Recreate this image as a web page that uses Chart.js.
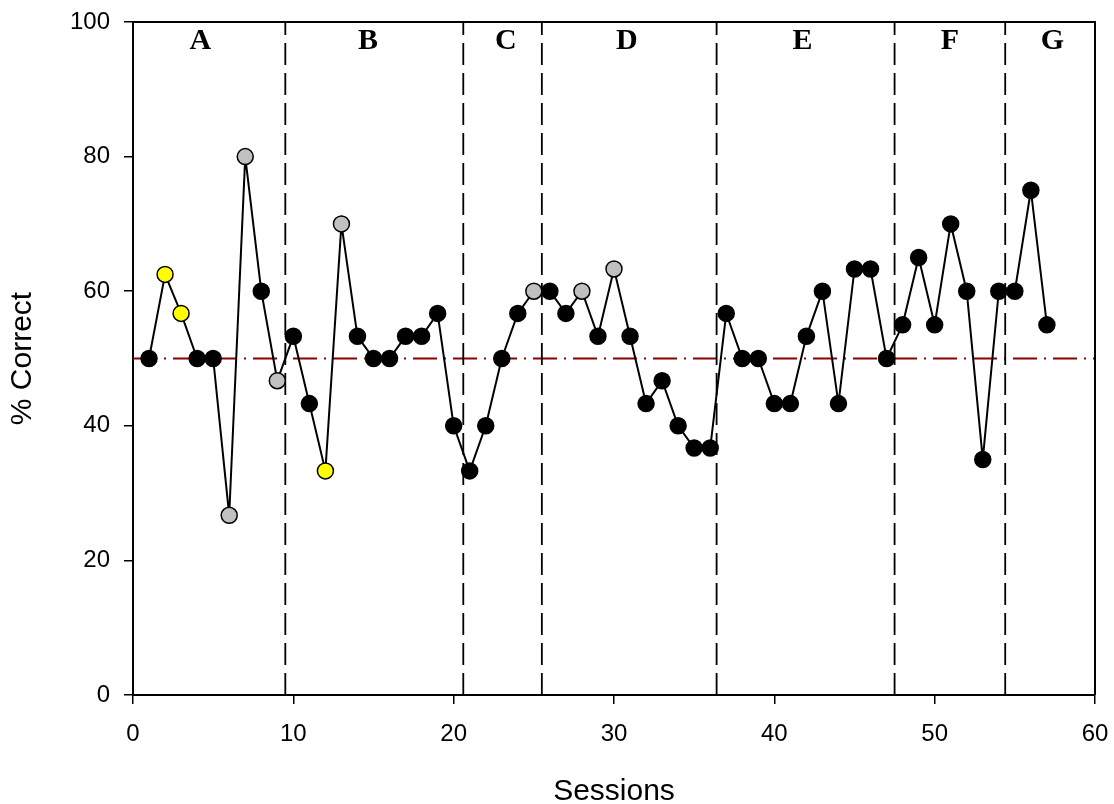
<!DOCTYPE html>
<html><head><meta charset="utf-8">
<script src="https://cdn.jsdelivr.net/npm/chart.js@4/dist/chart.umd.min.js"></script>
<style>html,body{margin:0;padding:0;background:#fff;}canvas{display:block;}</style>
</head><body>
<canvas id="c" width="1114" height="804"></canvas>
<script>
// ---- data ----
const sessions = [1,2,3,4,5,6,7,8,9,10,11,12,13,14,15,16,17,18,19,20,21,22,23,24,25,26,27,28,29,30,31,32,33,34,35,36,37,38,39,40,41,42,43,44,45,46,47,48,49,50,51,52,53,54,55,56,57];
const percentCorrect = [50,62.5,56.7,50,50,26.7,80,60,46.7,53.3,43.3,33.3,70,53.3,50,50,53.3,53.3,56.7,40,33.3,40,50,56.7,60,60,56.7,60,53.3,63.3,53.3,43.3,46.7,40,36.7,36.7,56.7,50,50,43.3,43.3,53.3,60,43.3,63.3,63.3,50,55,65,55,70,60,35,60,60,75,55];
// k = black, y = yellow, g = gray
const pointKind = ['k','y','y','k','k','g','g','k','g','k','k','y','g','k','k','k','k','k','k','k','k','k','k','k','g','k','k','g','k','g','k','k','k','k','k','k','k','k','k','k','k','k','k','k','k','k','k','k','k','k','k','k','k','k','k','k','k'];
const phaseBoundaries = [9.5, 20.6, 25.5, 36.4, 47.5, 54.4];
const phaseLabels = ['A','B','C','D','E','F','G'];
const phaseLabelX = [4.2, 14.65, 23.25, 30.8, 41.75, 50.95, 57.35];
const chanceLevel = 50;
const xTicks = [0,10,20,30,40,50,60];
const yTicks = [0,20,40,60,80,100];
const kindColor = {k:'#000000', y:'#FFFF00', g:'#C0C0C0'};

// ---- datasets ----
const datasets = [];
datasets.push({
  label:'% Correct',
  data: sessions.map((s,i)=>({x:s, y:percentCorrect[i]})),
  showLine:true, borderColor:'#000', borderWidth:2,
  pointRadius:8, pointBorderWidth:1.5, pointBorderColor:'#000',
  pointBackgroundColor: pointKind.map(k=>kindColor[k]),
  order:0, clip:false
});
datasets.push({
  label:'chance',
  data:[{x:xTicks[0], y:chanceLevel},{x:xTicks[xTicks.length-1], y:chanceLevel}],
  showLine:true, borderColor:'#8B0000', borderWidth:2, borderDash:[24,7,2,7],
  pointRadius:0, order:2
});
phaseBoundaries.forEach(b=>{
  datasets.push({
    label:'phase',
    data:[{x:b, y:yTicks[0]},{x:b, y:yTicks[yTicks.length-1]}],
    showLine:true, borderColor:'#000', borderWidth:1.8, borderDash:[22,8],
    pointRadius:0, order:1
  });
});

const framePlugin = {
  id:'frame',
  afterDraw(chart){
    const {ctx, chartArea:a, scales:{x}} = chart;
    ctx.save();
    ctx.strokeStyle='#000'; ctx.lineWidth=2;
    ctx.beginPath();
    ctx.moveTo(a.left, a.top); ctx.lineTo(a.right, a.top); ctx.lineTo(a.right, a.bottom);
    ctx.stroke();
    ctx.fillStyle='#000';
    ctx.font='bold 30px "Liberation Serif", "Times New Roman", serif';
    ctx.textAlign='center'; ctx.textBaseline='middle';
    phaseLabels.forEach((t,i)=>{
      ctx.fillText(t, x.getPixelForValue(phaseLabelX[i]), a.top + 19);
    });
    ctx.restore();
  }
};

new Chart(document.getElementById('c'), {
  type:'scatter',
  data:{datasets},
  options:{
    responsive:false, animation:false, devicePixelRatio:1,
    layout:{padding:{top:22, right:19, left:0, bottom:0}},
    plugins:{legend:{display:false}, tooltip:{enabled:false}},
    scales:{
      x:{
        type:'linear', min:0, max:60,
        afterFit(s){ s.height = 109; s.paddingLeft = 0; s.paddingRight = 0; },
        afterBuildTicks(s){ s.ticks = xTicks.map(v=>({value:v})); },
        grid:{display:true, drawOnChartArea:false, drawTicks:true, tickLength:9, color:'#000', lineWidth:1.5},
        border:{display:true, color:'#000', width:2},
        ticks:{color:'#000', padding:16, maxRotation:0, font:{family:'"Liberation Sans", Arial, sans-serif', size:24}},
        title:{display:true, text:'Sessions', color:'#000', padding:{top:0,bottom:-3}, font:{family:'"Liberation Sans", Arial, sans-serif', size:30, lineHeight:1}}
      },
      y:{
        type:'linear', min:0, max:100,
        afterFit(s){ s.width = 133; s.paddingTop = 0; s.paddingBottom = 0; },
        afterBuildTicks(s){ s.ticks = yTicks.map(v=>({value:v})); },
        grid:{display:true, drawOnChartArea:false, drawTicks:true, tickLength:9, color:'#000', lineWidth:1.5},
        border:{display:true, color:'#000', width:2},
        ticks:{color:'#000', padding:14, font:{family:'"Liberation Sans", Arial, sans-serif', size:24}},
        title:{display:true, text:'% Correct', color:'#000', padding:{top:8,bottom:0}, font:{family:'"Liberation Sans", Arial, sans-serif', size:30, lineHeight:1}}
      }
    }
  },
  plugins:[framePlugin]
});
</script>
</body></html>
